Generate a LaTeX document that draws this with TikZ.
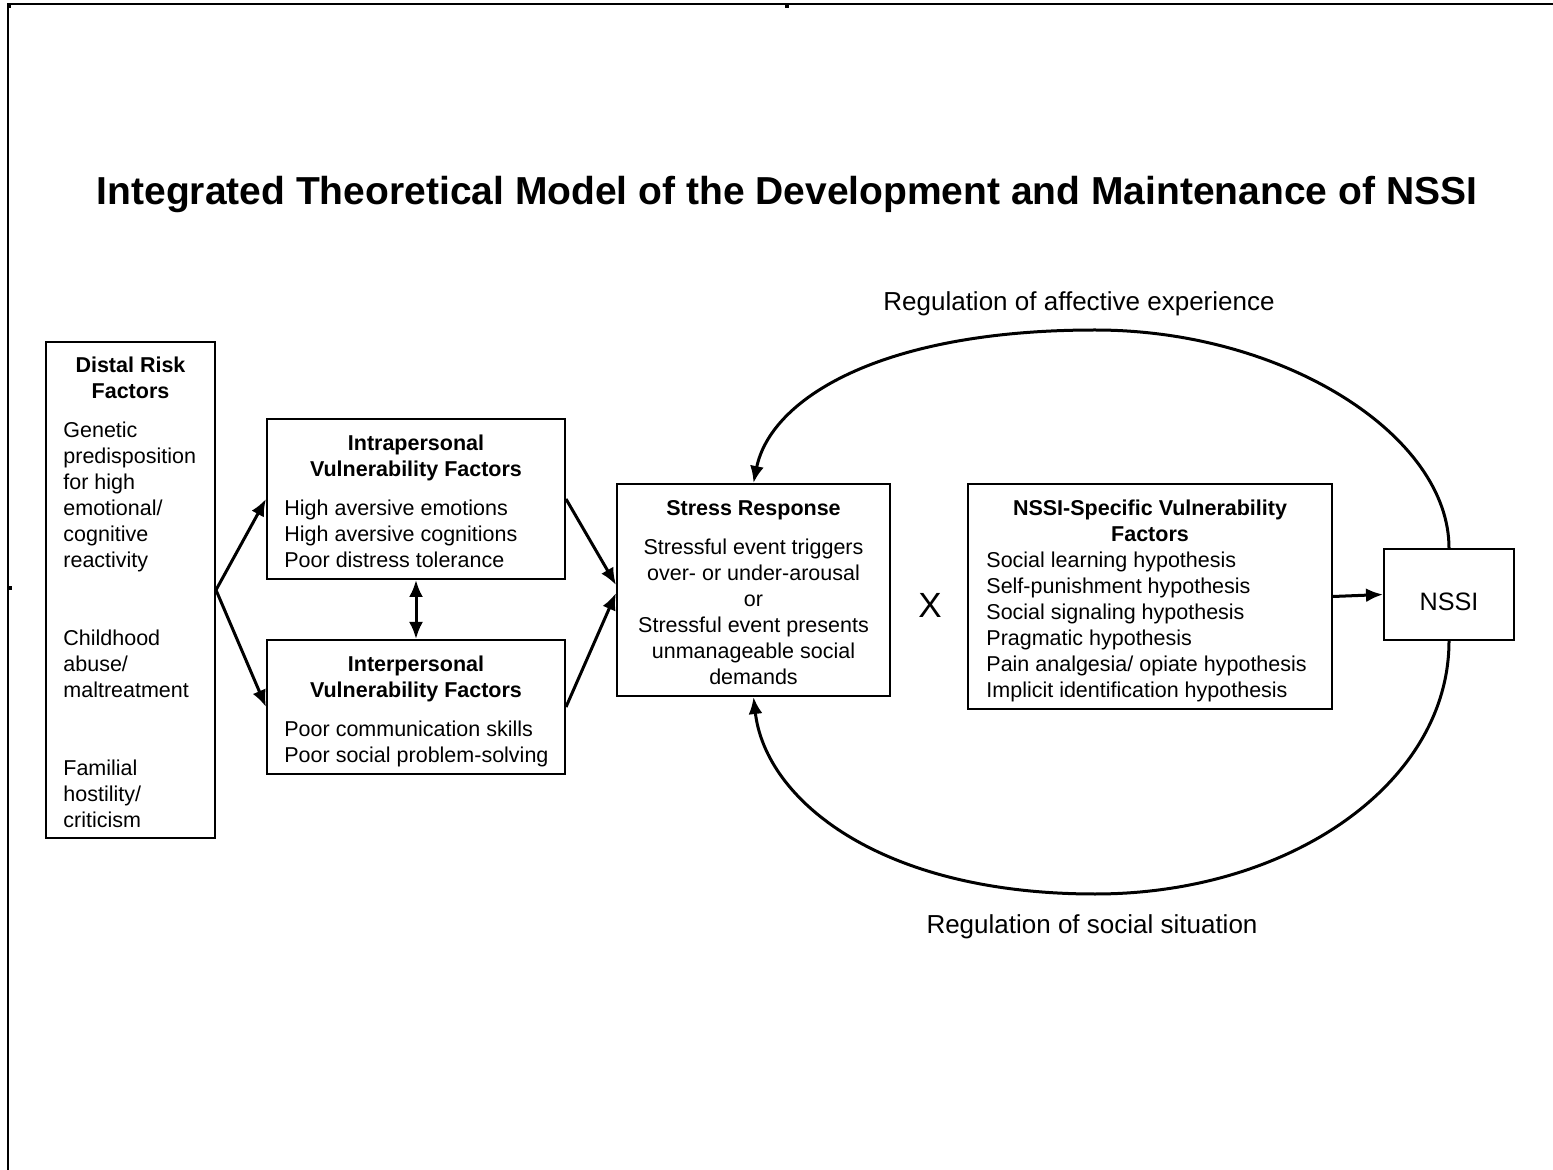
\documentclass[tikz,border=0pt]{standalone}
\usepackage{fontspec}
\setmainfont{Liberation Sans}
\usetikzlibrary{arrows.meta,calc}
\begin{document}
\begin{tikzpicture}[x=0.5pt,y=-0.5pt,
  box/.style={draw, line width=1pt, rectangle, inner sep=0pt},
  txt/.style={inner sep=0pt, align=left, font=\fontsize{10.75}{13}\selectfont},
  hd/.style={inner sep=0pt, align=center, font=\fontsize{10.75}{13}\selectfont\bfseries},
  ctr/.style={inner sep=0pt, align=center, font=\fontsize{10.75}{13}\selectfont},
  lbl/.style={inner sep=0pt, font=\fontsize{13}{15}\selectfont},
  arr/.style={line width=1.5pt, -{Latex[length=8.5pt,width=7pt]}},
  darr/.style={line width=1.5pt, {Latex[length=8.5pt,width=7pt]}-{Latex[length=8.5pt,width=7pt]}}]
\useasboundingbox (0,0) rectangle (1553,1170);
% frame
\draw[line width=1pt] (7,4.5) -- (1553,4.5);
\draw[line width=1pt] (8,4.5) -- (8,1170);
\fill (7,4) rectangle (11,8);
\fill (785,5) rectangle (789,8);
\fill (8,586) rectangle (12,590);
% title
\node[inner sep=0pt, font=\fontsize{19.5}{23}\selectfont\bfseries] (title) at (787,195) {Integrated Theoretical Model of the Development and Maintenance of NSSI};
% boxes
\node[box, minimum width=84.5pt, minimum height=248pt] (distal) at (130.5,590) {};
\node[box, minimum width=149pt, minimum height=80pt] (intra) at (416,499) {};
\node[box, minimum width=149pt, minimum height=67pt] (inter) at (416,707) {};
\node[box, minimum width=136.5pt, minimum height=106pt] (stress) at (753.5,590) {};
\node[box, minimum width=182pt, minimum height=112.5pt] (spec) at (1150,596.5) {};
\node[box, minimum width=65pt, minimum height=45.5pt] (nssi) at (1449,594.5) {};
% texts
\node[hd] (distalh) at (130.5,380) {Distal Risk\strut\\Factors\strut};
\node[txt, anchor=west] (distalt) at (63,627) {Genetic\strut\\predisposition\strut\\for high\strut\\emotional/\strut\\cognitive\strut\\reactivity\strut\\\strut\\\strut\\Childhood\strut\\abuse/\strut\\maltreatment\strut\\\strut\\\strut\\Familial\strut\\hostility/\strut\\criticism\strut};
\node[hd] (intrah) at (416,458) {Intrapersonal\strut\\Vulnerability Factors\strut};
\node[txt, anchor=west] (intrat) at (284,536) {High aversive emotions\strut\\High aversive cognitions\strut\\Poor distress tolerance\strut};
\node[hd] (interh) at (416,679) {Interpersonal\strut\\Vulnerability Factors\strut};
\node[txt, anchor=west] (intert) at (284,744) {Poor communication skills\strut\\Poor social problem-solving\strut};
\node[hd] (stressh) at (753.5,510) {Stress Response\strut};
\node[ctr] (stresst) at (753.5,614) {Stressful event triggers\strut\\over- or under-arousal\strut\\or\strut\\Stressful event presents\strut\\unmanageable social\strut\\demands\strut};
\node[hd] (spech) at (1150,523) {NSSI-Specific Vulnerability\strut\\Factors\strut};
\node[txt, anchor=west] (spect) at (986,627) {Social learning hypothesis\strut\\Self-punishment hypothesis\strut\\Social signaling hypothesis\strut\\Pragmatic hypothesis\strut\\Pain analgesia/ opiate hypothesis\strut\\Implicit identification hypothesis\strut};
\node[inner sep=0pt, font=\fontsize{12.6}{15}\selectfont] (nssit) at (1449,602) {NSSI};
\node[inner sep=0pt, font=\fontsize{17.5}{20}\selectfont] (times) at (930,605) {X};
\node[lbl] (lbltop) at (1079,304) {Regulation of affective experience};
\node[lbl] (lblbot) at (1092,927) {Regulation of social situation};
% connectors
\draw[arr] (distal.east) -- (intra.west);
\draw[arr] (distal.east) -- (inter.west);
\draw[arr] (intra.east) -- ($(stress.west)+(0,-5)$);
\draw[arr] (inter.east) -- ($(stress.west)+(0,3)$);
\draw[darr] (intra.south) -- (inter.south |- inter.north);
\draw[arr] (spec.east) -- (nssi.west);
\coordinate (toppeak) at (1095,330);
\coordinate (botpeak) at (1095,894);
\draw[arr] (nssi.north) .. controls +(0,-112) and +(190,0) .. (toppeak)
  .. controls +(-215,0) and +(17,-84) .. (stress.north);
\draw[arr] (nssi.south) .. controls +(0,142) and +(195,0) .. (botpeak)
  .. controls +(-215,0) and +(12,103) .. (stress.south);
\end{tikzpicture}
\end{document}
